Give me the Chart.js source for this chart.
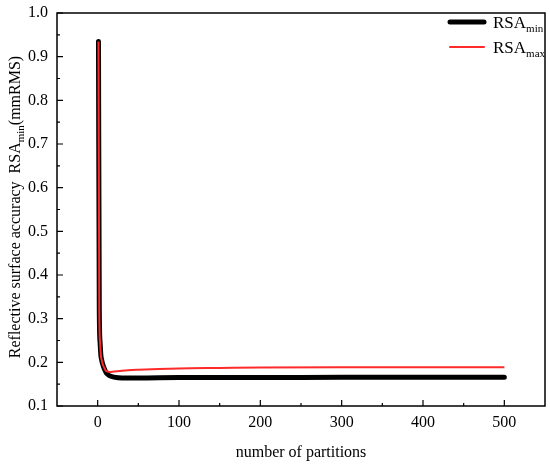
<!DOCTYPE html>
<html>
<head>
<meta charset="utf-8">
<script src="https://cdn.jsdelivr.net/npm/chart.js@4/dist/chart.umd.min.js"></script>
<style>
  html, body { margin: 0; padding: 0; background: #fff; }
  #wrap { width: 550px; height: 466px; }
</style>
</head>
<body>
<div id="wrap"><canvas id="chart"></canvas></div>
<script>
// data
const partitions = [1, 2, 3, 4, 5, 6, 8, 10, 12, 15, 20, 30, 50, 100, 150, 200, 300, 400, 500];
const rsaMin = [0.935, 0.32, 0.245, 0.215, 0.205, 0.197, 0.186, 0.178, 0.173, 0.169, 0.166, 0.164, 0.164, 0.165, 0.165, 0.165, 0.166, 0.166, 0.166];
const rsaMax = [0.935, 0.32, 0.245, 0.215, 0.205, 0.197, 0.188, 0.181, 0.179, 0.178, 0.179, 0.181, 0.183, 0.186, 0.187, 0.188, 0.189, 0.189, 0.189];
const xTicks = [0, 100, 200, 300, 400, 500];
const yTicks = [0.1, 0.2, 0.3, 0.4, 0.5, 0.6, 0.7, 0.8, 0.9, 1.0];

const FONT = '"Liberation Serif", "Times New Roman", serif';

function toPoints(xs, ys) {
    return xs.map((x, i) => ({ x: x, y: ys[i] }));
}

// frame, inner ticks, y title and legend with subscripts
const decorPlugin = {
    id: 'decor',
    afterDraw(chart) {
        const ctx = chart.ctx;
        const a = chart.chartArea;
        const xs = chart.scales.x;
        const ys = chart.scales.y;
        ctx.save();
        ctx.strokeStyle = '#000';
        ctx.lineWidth = 1.5;
        ctx.strokeRect(a.left, a.top, a.right - a.left, a.bottom - a.top);

        // x ticks pointing in
        ctx.lineWidth = 1.2;
        ctx.beginPath();
        for (let v = 0; v <= 500; v += 50) {
            const px = xs.getPixelForValue(v);
            const len = v % 100 === 0 ? 6 : 3;
            ctx.moveTo(px, a.bottom);
            ctx.lineTo(px, a.bottom - len);
        }
        // y ticks pointing in
        for (let k = 2; k <= 20; k++) {
            const v = k * 0.05;
            const py = ys.getPixelForValue(v);
            const len = k % 2 === 0 ? 6 : 3;
            ctx.moveTo(a.left, py);
            ctx.lineTo(a.left + len, py);
        }
        ctx.stroke();

        // y axis title
        ctx.fillStyle = '#000';
        ctx.translate(20, 207);
        ctx.rotate(-Math.PI / 2);
        const big = '16px ' + FONT;
        const small = '11px ' + FONT;
        const parts = [
            ['Reflective surface accuracy  RSA', big, 0],
            ['min', small, 4],
            ['(mmRMS)', big, 0]
        ];
        let total = 0;
        parts.forEach(p => { ctx.font = p[1]; total += ctx.measureText(p[0]).width; });
        let cx = -total / 2;
        ctx.textBaseline = 'alphabetic';
        parts.forEach(p => {
            ctx.font = p[1];
            ctx.fillText(p[0], cx, p[2]);
            cx += ctx.measureText(p[0]).width;
        });
        ctx.restore();

        // legend
        ctx.save();
        const items = [
            { sub: 'min', color: '#000', width: 5, y: 22 },
            { sub: 'max', color: '#ff2a2a', width: 2, y: 47 }
        ];
        items.forEach(it => {
            ctx.strokeStyle = it.color;
            ctx.lineWidth = it.width;
            ctx.lineCap = 'round';
            ctx.beginPath();
            ctx.moveTo(450, it.y);
            ctx.lineTo(484, it.y);
            ctx.stroke();
            ctx.fillStyle = '#000';
            ctx.textBaseline = 'alphabetic';
            ctx.font = '17px ' + FONT;
            ctx.fillText('RSA', 493, it.y + 6);
            const w = ctx.measureText('RSA').width;
            ctx.font = '11px ' + FONT;
            ctx.fillText(it.sub, 493 + w, it.y + 10);
        });
        ctx.restore();
    }
};

new Chart(document.getElementById('chart'), {
    type: 'line',
    data: {
        datasets: [
            {
                label: 'RSAmax',
                data: toPoints(partitions, rsaMax),
                borderColor: '#ff2a2a',
                borderWidth: 2,
                pointRadius: 0,
                tension: 0.3,
                cubicInterpolationMode: 'monotone',
                order: 0
            },
            {
                label: 'RSAmin',
                data: toPoints(partitions, rsaMin),
                borderColor: '#000',
                borderWidth: 5,
                pointRadius: 0,
                tension: 0.3,
                cubicInterpolationMode: 'monotone',
                borderCapStyle: 'round',
                order: 1
            }
        ]
    },
    options: {
        responsive: true,
        maintainAspectRatio: false,
        animation: false,
        layout: { padding: { top: 13, right: 5, left: 0, bottom: 0 } },
        plugins: {
            legend: { display: false },
            tooltip: { enabled: false }
        },
        scales: {
            x: {
                type: 'linear',
                min: -50,
                max: 550,
                afterBuildTicks: s => { s.ticks = xTicks.map(v => ({ value: v })); },
                afterFit: s => { s.height = 60; s.paddingLeft = 0; s.paddingRight = 0; },
                grid: { display: false, drawTicks: false },
                border: { display: false },
                ticks: {
                    color: '#000',
                    padding: 7,
                    maxRotation: 0,
                    font: { family: FONT, size: 16 }
                },
                title: {
                    display: true,
                    text: 'number of partitions',
                    color: '#000',
                    padding: { top: 8 },
                    font: { family: FONT, size: 16 }
                }
            },
            y: {
                min: 0.1,
                max: 1.0,
                afterBuildTicks: s => { s.ticks = yTicks.map(v => ({ value: v })); },
                afterFit: s => { s.width = 57; s.paddingTop = 0; s.paddingBottom = 0; },
                grid: { display: false, drawTicks: false },
                border: { display: false },
                ticks: {
                    color: '#000',
                    padding: 9,
                    font: { family: FONT, size: 16 },
                    callback: v => v.toFixed(1)
                }
            }
        }
    },
    plugins: [decorPlugin]
});
</script>
</body>
</html>
